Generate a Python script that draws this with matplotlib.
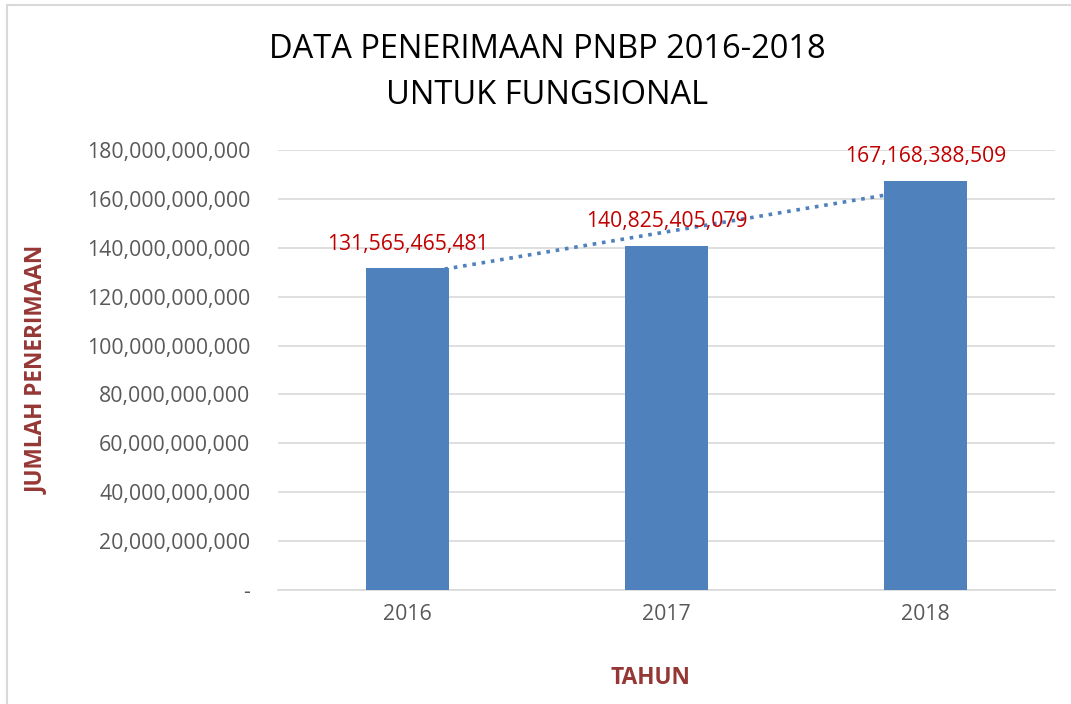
import numpy as np
import matplotlib.pyplot as plt
from matplotlib.patches import Rectangle
from matplotlib.ticker import FuncFormatter

years = ["2016", "2017", "2018"]
values = [131565465481, 140825405079, 167168388509]
labels = ["131,565,465,481", "140,825,405,079", "167,168,388,509"]

plt.rcParams['font.family'] = ['Open Sans', 'DejaVu Sans']

fig = plt.figure(figsize=(10.71, 7.04), dpi=100)
ax = fig.add_axes([278 / 1071, 1 - 590 / 704, (1055 - 278) / 1071, 440 / 704])

# outer chart border (only top and left visible in the reference)
fig.patches.append(Rectangle((7 / 1071, -0.05), 1.2, 1.05 - 5 / 704,
                             transform=fig.transFigure, fill=False,
                             edgecolor="#d9d9d9", linewidth=1.5))

x = np.arange(len(years))
ax.bar(x, values, width=0.317, color="#4f81bd", zorder=3)

# linear trendline (hidden behind the bars at its ends)
k, b = np.polyfit(x, values, 1)
ax.plot(x, k * x + b, linestyle=(0, (1, 1.6)), color="#4f81bd", linewidth=2.6, zorder=2)

for xi, v, lab in zip(x, values, labels):
    ax.annotate(lab, (xi, v), xytext=(0, 10), textcoords="offset points",
                ha="center", va="bottom", color="#c00000", fontsize=15.2)

ax.set_xlim(-0.5, 2.5)
ax.set_ylim(0, 180e9)
ax.set_yticks(np.arange(0, 180e9 + 1, 20e9))
ax.yaxis.set_major_formatter(FuncFormatter(lambda v, p: "-" if v == 0 else f"{int(v):,}"))
ax.set_xticks(x)
ax.set_xticklabels(years)
ax.grid(axis="y", color="#d9d9d9", linewidth=1.2, zorder=0)
ax.set_axisbelow(True)
for s in ["top", "right", "left"]:
    ax.spines[s].set_visible(False)
ax.spines["bottom"].set_color("#d9d9d9")
ax.spines["bottom"].set_linewidth(1.2)
ax.tick_params(axis="both", length=0, labelsize=15.3, labelcolor="#595959")
ax.tick_params(axis="y", pad=20)
ax.tick_params(axis="x", pad=10)

fig.text(547 / 1071, 1 - 50 / 704, "DATA PENERIMAAN PNBP 2016-2018", ha="center", va="center",
         fontsize=23.5, color="black")
fig.text(547 / 1071, 1 - 95 / 704, "UNTUK FUNGSIONAL", ha="center", va="center",
         fontsize=23.5, color="black")

fig.text(37 / 1071, 1 - 370 / 704, "JUMLAH PENERIMAAN", rotation=90, ha="center", va="center",
         fontsize=16.3, fontweight="bold", color="#953735")
fig.text(650 / 1071, 1 - 678 / 704, "TAHUN", ha="center", va="center",
         fontsize=16.3, fontweight="bold", color="#953735")

fig.savefig("out.png", dpi=100)
